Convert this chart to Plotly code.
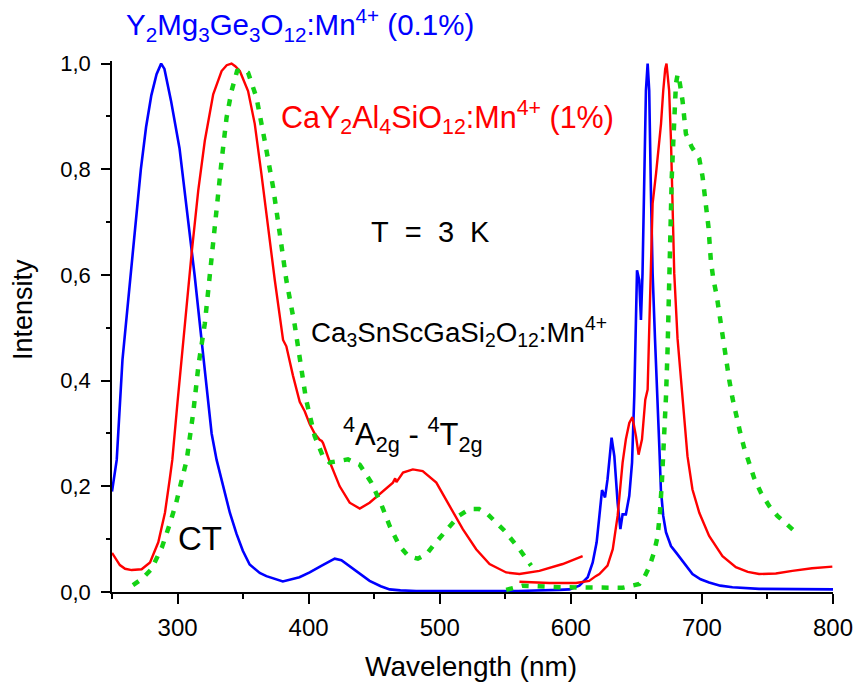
import plotly.graph_objects as go

# ---------------- data ----------------
blue_wl = [250, 253.6, 258, 263, 267, 272, 276, 280, 284, 287.5, 290, 295, 301.5, 305, 309, 310.7, 313,
           318.3, 322, 326, 329.8, 334.6, 339.9, 345, 349.8, 355, 362.7, 367.8, 380.3, 393, 400.8, 410,
           419.9, 425, 431, 438, 446.5, 455, 461.8, 470, 482, 520, 560, 591, 599, 606.5, 612.9, 616.7,
           619.7, 621.8, 623.8, 626.1, 628, 631.1, 633.2, 635.7, 637.8, 639.5, 642, 644.6, 646.7, 648.4,
           649.7, 650.5, 652.2, 653.5, 654.7, 656, 657.3, 658.6, 659.8, 661.1, 662.4, 664.2, 665.7, 667.5,
           668.7, 670.5, 672.6, 676.4, 680.2, 685.2, 692.8, 699, 705.5, 714, 723.3, 743.6, 770, 800]
blue_int = [0.19, 0.25, 0.44, 0.57, 0.67, 0.80, 0.88, 0.94, 0.98, 1.0, 0.99, 0.93, 0.84, 0.77, 0.69, 0.647, 0.60,
            0.477, 0.39, 0.30, 0.25, 0.20, 0.15, 0.11, 0.078, 0.052, 0.036, 0.03, 0.02, 0.028, 0.037, 0.05,
            0.063, 0.06, 0.049, 0.035, 0.021, 0.011, 0.005, 0.003, 0.002, 0.002, 0.002, 0.004, 0.005, 0.012, 0.028, 0.056,
            0.094, 0.144, 0.193, 0.179, 0.213, 0.292, 0.257, 0.169, 0.119, 0.147, 0.147, 0.182, 0.245, 0.37,
            0.5, 0.609, 0.59, 0.515, 0.603, 0.792, 0.949, 1.0, 0.949, 0.76, 0.603, 0.48, 0.4, 0.276,
            0.194, 0.144, 0.113, 0.087, 0.075, 0.059, 0.034, 0.024, 0.018, 0.012, 0.009, 0.006, 0.005, 0.005]

red_ex_wl = [250, 256, 260, 265, 272.6, 279, 285.3, 290.4, 294, 296, 300, 304.3, 310.7, 315.8, 320.8, 327.2,
             333.6, 337.5, 341.2, 344, 347.5, 353.8, 358.9, 364, 369, 374.2, 380.5, 383, 388, 393.2, 397,
             400.8, 404.6, 408.4, 410, 411, 416, 423.7, 431.3, 439, 446.5, 456.7, 464.3, 466, 467, 472,
             479.5, 487, 497.4, 507.5, 517.6, 527.8, 538, 550.7, 560.8, 576, 593.8, 609]
red_ex_int = [0.074, 0.051, 0.044, 0.0415, 0.043, 0.056, 0.094, 0.15, 0.213, 0.25, 0.36, 0.477, 0.64, 0.76, 0.854, 0.942,
              0.986, 0.997, 1.0, 0.995, 0.986, 0.948, 0.886, 0.791, 0.69, 0.59, 0.477, 0.465, 0.41, 0.36, 0.342,
              0.318, 0.30, 0.288, 0.286, 0.282, 0.247, 0.2, 0.169, 0.158, 0.169, 0.191, 0.207, 0.215, 0.208, 0.226,
              0.232, 0.229, 0.207, 0.163, 0.119, 0.081, 0.053, 0.037, 0.034, 0.04, 0.053, 0.068]

red_em_wl = [560.8, 583.6, 604, 614, 619, 621.8, 628, 632, 635.7, 639.5, 642, 644.6, 647, 649.7, 651.7, 654.3,
             656.8, 658.6, 659.8, 662.4, 665, 667.5, 668.8, 670.5, 672, 673, 675, 676.4, 677.6, 678.9, 681.4,
             685.2, 689, 692.8, 698, 705.5, 715.7, 725.9, 735, 743.6, 756.4, 769, 784, 799.5]
red_em_int = [0.0195, 0.017, 0.017, 0.021, 0.03, 0.034, 0.05, 0.081, 0.144, 0.245, 0.289, 0.32, 0.331, 0.295, 0.26, 0.289,
              0.364, 0.383, 0.496, 0.735, 0.792, 0.855, 0.886, 0.949, 0.99, 1.0, 0.949, 0.855, 0.729, 0.603, 0.48,
              0.37, 0.257, 0.194, 0.15, 0.106, 0.068, 0.047, 0.038, 0.034, 0.035, 0.04, 0.045, 0.048]

green_ex_wl = [266, 273, 280, 288, 294, 299, 303, 307, 312, 316, 320.8, 326, 329.8, 333.6, 337.4, 341.2, 345.4,
               350, 353.8, 360.2, 366.5, 372.9, 378, 383, 389.4, 394.5, 398, 404.6, 411, 416, 422.4, 430, 439,
               447.8, 455.4, 461.8, 469.4, 476, 483.3, 490, 496, 507.5, 515, 522.7, 530, 536.7, 549.4, 560.8, 569.7]
green_ex_int = [0.013, 0.025, 0.043, 0.084, 0.128, 0.169, 0.21, 0.25, 0.34, 0.43, 0.508, 0.64, 0.728, 0.816, 0.898, 0.948, 0.986,
                0.99, 0.983, 0.936, 0.854, 0.766, 0.678, 0.59, 0.505, 0.42, 0.365, 0.295, 0.256, 0.245, 0.248, 0.251, 0.241,
                0.207, 0.166, 0.125, 0.087, 0.068, 0.063, 0.072, 0.091, 0.125, 0.145, 0.157, 0.157, 0.147, 0.116, 0.081, 0.05]

green_em_wl = [550.7, 563.3, 591, 614, 639.5, 652.2, 656, 659.8, 663.5, 666.2, 668, 669.5, 671, 672.6, 673.8, 675,
               676.4, 677, 678.1, 678.9, 680.2, 681.5, 683.2, 685.2, 686.5, 687.8, 692.3, 698, 700.5, 702.3, 703.8,
               705, 706.8, 708.6, 711.4, 713.2, 714.9, 718.3, 720.8, 723.3, 725.9, 729, 732.2, 736, 739.8, 745,
               751.3, 757.6, 764, 770.3]
green_em_int = [0.004, 0.012, 0.009, 0.009, 0.008, 0.015, 0.028, 0.047, 0.075, 0.105, 0.15, 0.21, 0.28, 0.37, 0.458, 0.603,
                0.716, 0.785, 0.848, 0.911, 0.962, 0.98, 0.962, 0.93, 0.899, 0.867, 0.842, 0.82, 0.786, 0.754, 0.723,
                0.691, 0.628, 0.594, 0.559, 0.528, 0.496, 0.433, 0.402, 0.367, 0.336, 0.304, 0.273, 0.242, 0.216, 0.188,
                0.163, 0.144, 0.131, 0.116]

x_tick_vals = [300, 400, 500, 600, 700, 800]
y_tick_vals = [0.0, 0.2, 0.4, 0.6, 0.8, 1.0]
y_tick_text = ["0,0", "0,2", "0,4", "0,6", "0,8", "1,0"]

# ---------------- styles ----------------
BLUE = "#0000FF"
RED = "#FF0000"
GREEN = "#14D214"
FONT = "Arial, Liberation Sans, sans-serif"
NB = "\u00a0"

W, H = 856, 684
ML, MR, MT, MB = 112, 23, 61, 92
PW, PH = W - ML - MR, H - MT - MB


def px(xp):
    return (xp - ML) / PW


def py(yp):
    return (H - MB - yp) / PH


fig = go.Figure()
fig.add_trace(go.Scatter(x=blue_wl, y=blue_int, mode="lines", line=dict(color=BLUE, width=2.6)))
fig.add_trace(go.Scatter(x=red_ex_wl, y=red_ex_int, mode="lines", line=dict(color=RED, width=2.4)))
fig.add_trace(go.Scatter(x=red_em_wl, y=red_em_int, mode="lines", line=dict(color=RED, width=2.4)))
fig.add_trace(go.Scatter(x=green_ex_wl, y=green_ex_int, mode="lines",
                         line=dict(color=GREEN, width=4.5, dash="7px,9px")))
fig.add_trace(go.Scatter(x=green_em_wl, y=green_em_int, mode="lines",
                         line=dict(color=GREEN, width=4.5, dash="7px,9px")))

ann = [
    dict(text="Y<sub>2</sub>Mg<sub>3</sub>Ge<sub>3</sub>O<sub>12</sub>:Mn<sup>4+</sup> (0.1%)",
         x=px(124), y=py(25), color=BLUE, size=29.5),
    dict(text="CaY<sub>2</sub>Al<sub>4</sub>SiO<sub>12</sub>:Mn<sup>4+</sup> (1%)",
         x=px(279), y=py(117), color=RED, size=30.5),
    dict(text="T" + NB + " =" + NB + " 3" + NB + " K", x=px(369), y=py(232), color="black", size=29),
    dict(text="Ca<sub>3</sub>SnScGaSi<sub>2</sub>O<sub>12</sub>:Mn<sup>4+</sup>",
         x=px(309), y=py(331), color="black", size=27.7),
    dict(text="<sup>4</sup>A<sub>2g</sub> - <sup>4</sup>T<sub>2g</sub>",
         x=px(341), y=py(434), color="black", size=31),
    dict(text="CT", x=px(176), y=py(538), color="black", size=33),
]
annotations = []
for a in ann:
    annotations.append(dict(text=a["text"], x=a["x"], y=a["y"], xref="paper", yref="paper",
                            xanchor="left", yanchor="middle", showarrow=False,
                            font=dict(family=FONT, size=a["size"], color=a["color"])))

annotations.append(dict(text="Wavelength (nm)", x=px(471), y=py(666), xref="paper", yref="paper",
                        xanchor="center", yanchor="middle", showarrow=False,
                        font=dict(family=FONT, size=28, color="black")))
annotations.append(dict(text="Intensity", x=px(23), y=py(310), xref="paper", yref="paper",
                        xanchor="center", yanchor="middle", showarrow=False, textangle=-90,
                        font=dict(family=FONT, size=27, color="black")))

fig.update_layout(
    width=W, height=H,
    margin=dict(l=ML, r=MR, t=MT, b=MB, pad=0, autoexpand=False),
    paper_bgcolor="white", plot_bgcolor="white",
    showlegend=False,
    annotations=annotations,
    font=dict(family=FONT, color="black"),
)
fig.update_xaxes(
    range=[250, 800], showgrid=False, zeroline=False, automargin=False,
    showline=True, linecolor="black", linewidth=1.6,
    ticks="outside", ticklen=10, tickwidth=1.6, tickcolor="black",
    tickvals=x_tick_vals, tickfont=dict(family=FONT, size=24, color="black"),
    ticklabelstandoff=3, ticklabeloverflow="allow",
    minor=dict(dtick=50, tick0=250, ticks="outside", ticklen=5, tickwidth=1.6, tickcolor="black", showgrid=False),
)
fig.update_yaxes(
    range=[0, 1.005], showgrid=False, zeroline=False, automargin=False,
    showline=True, linecolor="black", linewidth=1.6,
    ticks="outside", ticklen=9, tickwidth=1.6, tickcolor="black",
    tickvals=y_tick_vals, ticktext=y_tick_text, tickfont=dict(family=FONT, size=22, color="black"),
    ticklabelstandoff=6,
    minor=dict(dtick=0.1, tick0=0, ticks="outside", ticklen=4, tickwidth=1.6, tickcolor="black", showgrid=False),
)

fig.write_html("out.html")
